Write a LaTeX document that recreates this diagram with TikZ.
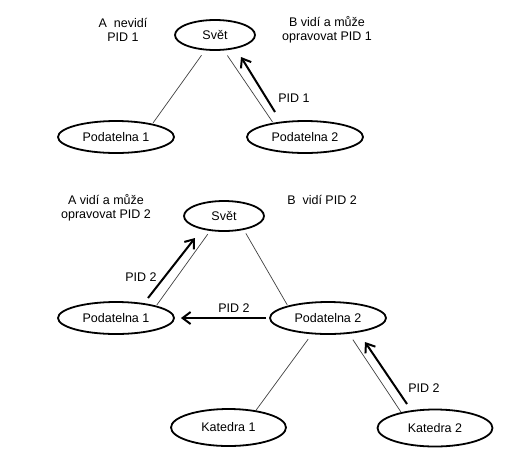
\documentclass[tikz,border=0pt]{standalone}
\usepackage{fontspec}
\setmainfont{Liberation Sans}
\usetikzlibrary{shapes.geometric,arrows.meta}
\begin{document}
\begin{tikzpicture}[x=1pt,y=-1pt,
  box/.style={ellipse,draw,line width=1.8pt,minimum width=116pt,minimum height=32pt,inner sep=0pt,font=\fontsize{12.5}{14}\selectfont},
  small/.style={box,minimum width=80pt,minimum height=30pt},
  link/.style={line width=0.7pt,draw=black!75},
  pid/.style={line width=2pt,-{Straight Barb[length=8pt,width=12pt,line width=2pt]}},
  lbl/.style={font=\fontsize{12.5}{14}\selectfont,align=center,inner sep=0pt}]
\useasboundingbox (0,0) rectangle (510,456);
% top
\node[small] (s1) at (215,35) {Svět};
\node[box] (p1) at (116,137) {Podatelna 1};
\node[box] (p2) at (305,137) {Podatelna 2};
\draw[link,shorten <=6pt,shorten >=1pt] (s1.237) -- (p1.20.5);
\draw[link,shorten <=6pt,shorten >=1pt] (s1.300) -- (p2.156.5);
\coordinate (a1s) at (275,112);
\coordinate (a1e) at (241,57);
\draw[pid] (a1s) -- (a1e);
\node[lbl] (l1) at (294,98) {PID 1};
\node[lbl] (t1) at (123,30) {A\ \ nevidí\\PID 1};
\node[lbl] (t2) at (327,30) {B vidí a může\\opravovat PID 1};
% bottom
\node[small] (s2) at (224,216) {Svět};
\node[box] (q1) at (116,318) {Podatelna 1};
\node[box] (q2) at (328,318) {Podatelna 2};
\node[box,minimum width=115pt,minimum height=37pt] (k1) at (228.5,427.5) {Katedra 1};
\node[box,minimum width=115pt,minimum height=37pt] (k2) at (435,428) {Katedra 2};
\draw[link,shorten <=4pt,shorten >=1pt] (s2.227.5) -- (q1.17.4);
\draw[link,shorten <=4pt,shorten >=1pt] (s2.325) -- (q2.163.6);
\draw[link,shorten <=6pt] (q2.225) -- (k1.32.5);
\draw[link,shorten <=7pt] (q2.323.7) -- (k2.155.4);
\coordinate (b1s) at (148,298);
\coordinate (b1e) at (195,238);
\draw[pid] (b1s) -- (b1e);
\node[lbl] (l2) at (141,277) {PID 2};
\draw[pid,shorten <=3pt,shorten >=6pt] (q2.west) -- (q1.east);
\node[lbl] (l3) at (234,308) {PID 2};
\coordinate (c1s) at (407,404);
\coordinate (c1e) at (365,342);
\draw[pid] (c1s) -- (c1e);
\node[lbl] (l4) at (424,388) {PID 2};
\node[lbl] (t3) at (106,208) {A vidí a může\\opravovat PID 2};
\node[lbl] (t4) at (322,200) {B\ \ vidí PID 2};
\end{tikzpicture}
\end{document}
